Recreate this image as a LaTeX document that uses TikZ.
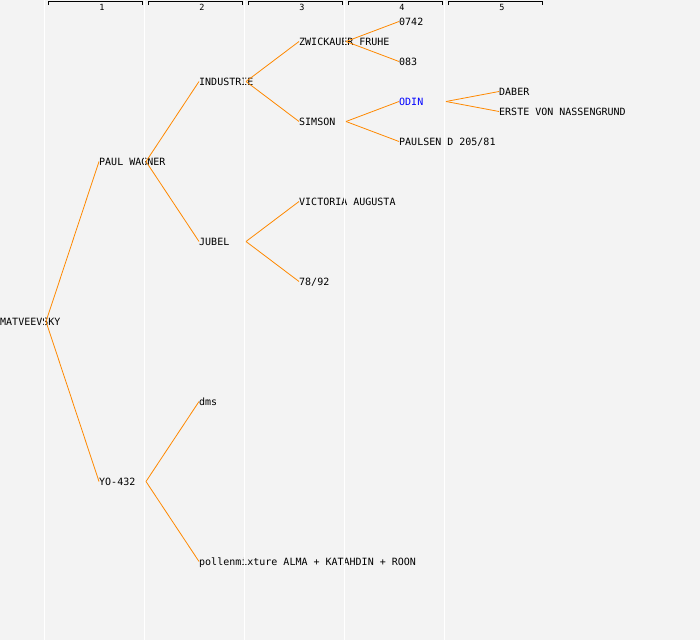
\documentclass[tikz,border=0pt]{standalone}
\usepackage{fontspec}
\newfontfamily\monofont{DejaVu Sans Mono}
\definecolor{bg}{RGB}{243,243,243}
\definecolor{edgeor}{RGB}{255,136,0}
\definecolor{odinblue}{RGB}{0,0,255}
\begin{document}
\begin{tikzpicture}[x=1pt,y=-1pt,
  lbl/.style={anchor=west, inner sep=0pt, text height=7pt, text depth=0pt, font=\monofont\fontsize{10}{12}\selectfont},
  conn/.style={draw=edgeor, line width=0.8pt},
  gridline/.style={draw=white, line width=1.5pt},
  hdr/.style={draw=black, line width=0.9pt},
  num/.style={font=\monofont\fontsize{8.5}{9}\selectfont, inner sep=0pt}]
\fill[bg] (0,0) rectangle (700,640);
\useasboundingbox (0,0) rectangle (700,640);
% header
\foreach \k in {1,...,5}{
  \draw[hdr] ({100*\k-52},5) -- ({100*\k-52},1.5) -- ({100*\k+42},1.5) -- ({100*\k+42},5);
  \node[num] (h\k) at ({100*\k+2},7.5) {\k};
}
% labels
\node[lbl] (mat) at (0,321.5) {MATVEEVSKY};
\node[lbl] (paul) at (99,161.5) {PAUL WAGNER};
\node[lbl] (yo) at (99,481.5) {YO-432};
\node[lbl] (ind) at (199,81.5) {INDUSTRIE};
\node[lbl] (jub) at (199,241.5) {JUBEL};
\node[lbl] (dms) at (199,401.5) {dms};
\node[lbl] (pol) at (199,561.5) {pollenmixture ALMA + KATAHDIN + ROON};
\node[lbl] (zwi) at (299,41.5) {ZWICKAUER FRUHE};
\node[lbl] (sim) at (299,121.5) {SIMSON};
\node[lbl] (vic) at (299,201.5) {VICTORIA AUGUSTA};
\node[lbl] (n78) at (299,281.5) {78/92};
\node[lbl] (n0742) at (399,21.5) {0742};
\node[lbl] (n083) at (399,61.5) {083};
\node[lbl,text=odinblue] (odin) at (399,101.5) {ODIN};
\node[lbl] (pau) at (399,141.5) {PAULSEN D 205/81};
\node[lbl] (dab) at (499,91.5) {DABER};
\node[lbl] (ers) at (499,111.5) {ERSTE VON NASSENGRUND};
% column lines
\foreach \x in {44.5,144.5,244.5,344.5,444.5}{
  \draw[gridline] (\x,0) -- (\x,640);
}
% branch points
\coordinate (bmat) at (46,321.5);
\coordinate (bpaul) at (146,161.5);
\coordinate (byo) at (146,481.5);
\coordinate (bind) at (246,81.5);
\coordinate (bjub) at (246,241.5);
\coordinate (bzwi) at (346,41.5);
\coordinate (bsim) at (346,121.5);
\coordinate (bodin) at (446,101.5);
% connectors
\draw[conn] (bmat) -- (paul.west);
\draw[conn] (bmat) -- (yo.west);
\draw[conn] (bpaul) -- (ind.west);
\draw[conn] (bpaul) -- (jub.west);
\draw[conn] (byo) -- (dms.west);
\draw[conn] (byo) -- (pol.west);
\draw[conn] (bind) -- (zwi.west);
\draw[conn] (bind) -- (sim.west);
\draw[conn] (bjub) -- (vic.west);
\draw[conn] (bjub) -- (n78.west);
\draw[conn] (bzwi) -- (n0742.west);
\draw[conn] (bzwi) -- (n083.west);
\draw[conn] (bsim) -- (odin.west);
\draw[conn] (bsim) -- (pau.west);
\draw[conn] (bodin) -- (dab.west);
\draw[conn] (bodin) -- (ers.west);
\end{tikzpicture}
\end{document}
